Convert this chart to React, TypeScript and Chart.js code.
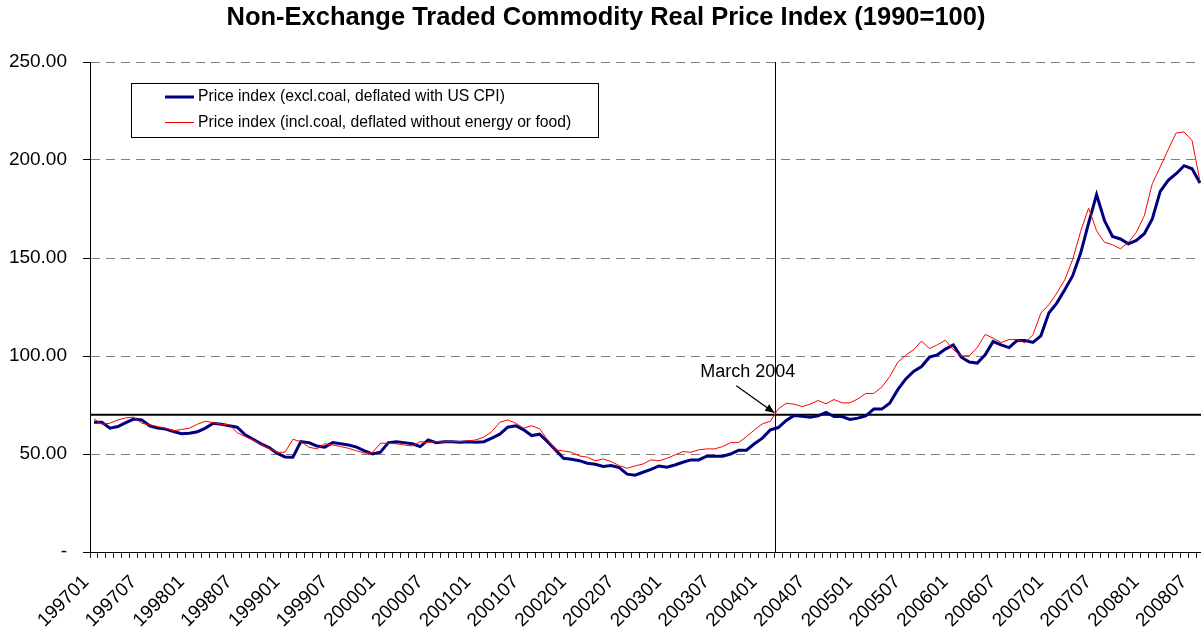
import React, { useEffect, useRef } from 'react';
import { Chart, registerables } from 'chart.js';

Chart.register(...registerables);

const FONT = '"Liberation Sans", Arial, Helvetica, sans-serif';

const TITLE = 'Non-Exchange Traded Commodity Real Price Index (1990=100)';
const SERIES_EXCL_LABEL = 'Price index (excl.coal, deflated with US CPI)';
const SERIES_INCL_LABEL = 'Price index (incl.coal, deflated without energy or food)';
const MARKER_TEXT = 'March 2004';

// Monthly categories 199701 .. 200808
const START_YEAR = 1997;
const END_YEAR = 2008;
const LAST_MONTH_OF_END_YEAR = 8;
const months: string[] = [];
for (let y = START_YEAR; y <= END_YEAR; y++) {
  const lastM = y === END_YEAR ? LAST_MONTH_OF_END_YEAR : 12;
  for (let m = 1; m <= lastM; m++) months.push(`${y}${m < 10 ? '0' + m : m}`);
}
const LABEL_EVERY = 6;

// Price index (excl. coal, deflated with US CPI)
const exclCoal: number[] = [
  66.2, 66.2, 63.2, 64.0, 66.0, 67.8, 67.4, 64.4, 63.2, 62.7, 61.5, 60.3,
  60.6, 61.3, 63.2, 65.7, 65.2, 64.4, 63.7, 59.8, 57.5, 55.2, 53.3, 50.4,
  48.5, 48.4, 56.3, 55.8, 54.1, 53.5, 55.8, 55.2, 54.6, 53.5, 51.6, 50.0,
  50.9, 55.8, 56.2, 55.8, 55.2, 53.8, 57.2, 55.8, 56.2, 56.2, 56.0, 56.3,
  56.0, 56.3, 58.1, 60.1, 63.7, 64.4, 62.3, 59.4, 60.1, 56.3, 52.1, 47.8,
  47.3, 46.6, 45.3, 44.8, 43.6, 44.1, 43.1, 39.7, 39.2, 40.7, 42.2, 43.9,
  43.3, 44.4, 45.8, 47.0, 47.0, 48.9, 48.9, 48.9, 50.0, 51.9, 51.9, 55.2,
  58.1, 62.3, 63.5, 67.1, 69.7, 69.2, 68.7, 69.5, 71.2, 69.1, 69.1, 67.6,
  68.3, 69.5, 72.9, 72.9, 75.9, 82.7, 88.2, 92.1, 94.6, 99.4, 100.6, 103.5,
  105.6, 99.4, 96.9, 96.4, 100.6, 107.4, 105.7, 104.3, 107.9, 107.9, 106.9, 110.3,
  121.9, 127.0, 133.8, 141.0, 152.5, 167.8, 182.3, 169.0, 161.0, 159.7, 157.2, 159.0,
  162.4, 169.9, 184.0, 189.6, 193.0, 197.1, 195.5, 188.3,
];

// Price index (incl. coal, deflated without energy or food)
const inclCoal: number[] = [
  67.9, 65.2, 65.7, 67.4, 68.4, 68.8, 65.7, 64.9, 64.0, 63.2, 61.9, 62.5,
  63.2, 65.2, 66.7, 66.0, 65.2, 64.9, 60.9, 58.9, 57.2, 55.0, 52.9, 50.9,
  50.9, 57.5, 56.3, 53.5, 52.6, 55.2, 54.6, 53.8, 52.9, 51.6, 50.4, 50.7,
  55.5, 55.5, 55.2, 54.6, 54.1, 56.3, 55.8, 56.3, 56.2, 56.3, 56.3, 56.7,
  57.2, 58.6, 61.4, 66.2, 67.4, 65.7, 63.2, 64.4, 62.9, 57.2, 52.1, 51.6,
  50.9, 49.0, 48.4, 46.5, 47.5, 46.1, 44.1, 42.7, 43.9, 44.9, 47.0, 46.5,
  47.8, 49.5, 51.2, 50.9, 52.1, 52.6, 52.6, 53.8, 55.8, 55.8, 58.9, 62.3,
  65.4, 66.7, 73.0, 75.9, 75.4, 74.2, 75.4, 77.3, 75.6, 77.8, 76.1, 76.1,
  78.1, 80.9, 80.9, 84.1, 89.5, 96.7, 100.4, 103.2, 107.6, 103.8, 105.7, 108.1,
  103.2, 100.1, 100.1, 104.3, 111.0, 109.1, 106.9, 108.4, 108.4, 106.7, 110.8, 121.9,
  126.1, 132.1, 138.9, 149.3, 163.6, 175.5, 163.9, 158.0, 156.8, 154.7, 158.0, 163.1,
  171.6, 187.9, 196.5, 205.3, 213.8, 214.3, 209.9, 189.0,
];

const Y_MIN = 0;
const Y_MAX = 250;
const Y_STEP = 50;
const REF_LEVEL = 70;
const MARKER_MONTH = '200403';

const overlayPlugin = {
  id: 'overlay',
  beforeDatasetsDraw(chart: any) {
    const { ctx, chartArea, scales } = chart;
    const x = scales.x;
    const y = scales.y;
    ctx.save();
    const yy = y.getPixelForValue(REF_LEVEL);
    ctx.strokeStyle = '#000';
    ctx.lineWidth = 2;
    ctx.beginPath();
    ctx.moveTo(chartArea.left, yy);
    ctx.lineTo(chartArea.right, yy);
    ctx.stroke();
    const xm = Math.round(x.getPixelForValue(months.indexOf(MARKER_MONTH)) - 3) + 0.5;
    ctx.lineWidth = 1;
    ctx.beginPath();
    ctx.moveTo(xm, chartArea.top);
    ctx.lineTo(xm, chartArea.bottom);
    ctx.stroke();
    ctx.restore();
  },
  afterDraw(chart: any) {
    const { ctx, scales } = chart;
    const x = scales.x;
    const y = scales.y;
    ctx.save();
    // title
    ctx.fillStyle = '#000';
    ctx.font = `bold 25.5px ${FONT}`;
    ctx.textAlign = 'center';
    ctx.textBaseline = 'middle';
    ctx.fillText(TITLE, 606, 18);

    // legend
    const ds = chart.data.datasets;
    const bx = 131.5, by = 83.5, bw = 467, bh = 54;
    ctx.fillStyle = '#fff';
    ctx.fillRect(bx, by, bw, bh);
    ctx.strokeStyle = '#000';
    ctx.lineWidth = 1;
    ctx.strokeRect(bx, by, bw, bh);
    const rows = [97, 122.5];
    ds.forEach((d: any, i: number) => {
      ctx.strokeStyle = d.borderColor;
      ctx.lineWidth = d.borderWidth;
      ctx.beginPath();
      ctx.moveTo(165, rows[i]);
      ctx.lineTo(194, rows[i]);
      ctx.stroke();
      ctx.fillStyle = '#000';
      ctx.font = `15.7px ${FONT}`;
      ctx.textAlign = 'left';
      ctx.textBaseline = 'middle';
      ctx.fillText(d.label, 198, rows[i]);
    });

    // annotation
    const xm = x.getPixelForValue(months.indexOf(MARKER_MONTH)) - 3;
    const yr = y.getPixelForValue(REF_LEVEL);
    ctx.font = `18px ${FONT}`;
    ctx.textAlign = 'left';
    ctx.textBaseline = 'middle';
    ctx.fillStyle = '#000';
    ctx.fillText(MARKER_TEXT, xm - 75, yr - 43);
    const ax1 = xm - 39, ay1 = yr - 29;
    const ax2 = xm - 1, ay2 = yr - 2;
    ctx.strokeStyle = '#000';
    ctx.lineWidth = 1.3;
    ctx.beginPath();
    ctx.moveTo(ax1, ay1);
    ctx.lineTo(ax2, ay2);
    ctx.stroke();
    const ang = Math.atan2(ay2 - ay1, ax2 - ax1);
    const hl = 9, hw = 4;
    ctx.beginPath();
    ctx.moveTo(ax2, ay2);
    ctx.lineTo(ax2 - hl * Math.cos(ang) + hw * Math.sin(ang), ay2 - hl * Math.sin(ang) - hw * Math.cos(ang));
    ctx.lineTo(ax2 - hl * Math.cos(ang) - hw * Math.sin(ang), ay2 - hl * Math.sin(ang) + hw * Math.cos(ang));
    ctx.closePath();
    ctx.fillStyle = '#000';
    ctx.fill();
    ctx.restore();
  },
};

export default function App() {
  const canvasRef = useRef<HTMLCanvasElement | null>(null);

  useEffect(() => {
    const canvas = canvasRef.current;
    if (!canvas) return;
    const chart = new Chart(canvas, {
      type: 'line',
      data: {
        labels: months,
        datasets: [
          {
            label: SERIES_EXCL_LABEL,
            data: exclCoal,
            borderColor: '#000080',
            backgroundColor: '#000080',
            borderWidth: 3,
            pointRadius: 0,
            tension: 0,
            fill: false,
            order: 1,
          },
          {
            label: SERIES_INCL_LABEL,
            data: inclCoal,
            borderColor: '#ff0000',
            backgroundColor: '#ff0000',
            borderWidth: 1,
            pointRadius: 0,
            tension: 0,
            fill: false,
            order: 0,
          },
        ],
      },
      options: {
        responsive: false,
        animation: false,
        events: [],
        layout: { padding: { top: 62, right: 6, left: 0, bottom: 0 } },
        plugins: {
          legend: { display: false },
          title: { display: false },
          tooltip: { enabled: false },
        },
        scales: {
          x: {
            type: 'category',
            offset: true,
            grid: {
              display: true,
              offset: true,
              drawOnChartArea: false,
              drawTicks: true,
              tickLength: 6,
              tickColor: '#222',
              tickWidth: 1,
              tickBorderDash: [1, 0],
            },
            border: { display: true, color: '#000', width: 1 },
            ticks: {
              autoSkip: false,
              maxRotation: 45,
              minRotation: 45,
              labelOffset: -8,
              padding: 13,
              color: '#000',
              font: { family: FONT, size: 19 },
              callback: (_v: any, i: number) => (i % LABEL_EVERY === 0 ? months[i] : ''),
            },
            afterFit: (s: any) => {
              s.height = 83;
              s.paddingLeft = 0;
              s.paddingRight = 0;
            },
          },
          y: {
            min: Y_MIN,
            max: Y_MAX,
            ticks: {
              stepSize: Y_STEP,
              padding: 16,
              color: '#000',
              font: { family: FONT, size: 19 },
              callback: (v: any) => (Number(v) === 0 ? '-' : Number(v).toFixed(2)),
            },
            grid: {
              color: (c: any) => (c.tick && c.tick.value === 0 ? 'rgba(0,0,0,0)' : '#7f7f7f'),
              lineWidth: 1,
              tickLength: 7,
              tickColor: '#000',
              tickBorderDash: [1, 0],
              drawTicks: true,
            },
            border: { display: true, color: '#000', width: 1, dash: [9, 6] },
            afterFit: (s: any) => {
              s.width = 90;
            },
          },
        },
      },
      plugins: [overlayPlugin],
    } as any);
    return () => chart.destroy();
  }, []);

  return (
    <div
      style={{
        position: 'fixed',
        left: 0,
        top: 0,
        width: 1201,
        height: 635,
        overflow: 'hidden',
        background: '#fff',
      }}
    >
      <canvas ref={canvasRef} width={1210} height={635} style={{ display: 'block' }} />
    </div>
  );
}
